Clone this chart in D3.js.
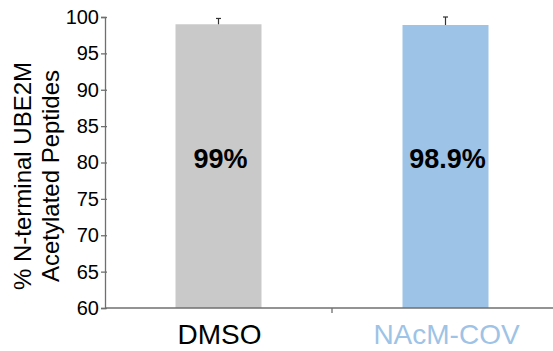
<!DOCTYPE html>
<html>
<head>
<meta charset="utf-8">
<script src="https://cdn.jsdelivr.net/npm/d3@7"></script>
<style>
  html, body { margin: 0; padding: 0; background: #fff; }
  svg { display: block; font-family: "Liberation Sans", Arial, sans-serif; }
</style>
</head>
<body>
<svg id="chart" width="553" height="351"></svg>
<script>
// Percentage of N-terminally acetylated UBE2M peptides per treatment
const categories = ["DMSO", "NAcM-COV"];
const values = [99, 98.9];
const errors = [0.8, 1.1];
const valueLabels = ["99%", "98.9%"];
const barColors = ["#c9c9c9", "#9dc3e6"];
const labelColors = ["#000000", "#9dc3e6"];
const yTicks = [60, 65, 70, 75, 80, 85, 90, 95, 100];

const svg = d3.select("#chart");
const margin = { left: 105, top: 17, bottom: 43 };
const height = 351;
const plotBottom = height - margin.bottom; // 308

const x = d3.scaleBand()
  .domain(categories)
  .range([margin.left, 559])
  .paddingInner(0)
  .paddingOuter(0);

const y = d3.scaleLinear()
  .domain([60, 100])
  .range([plotBottom, margin.top]);

const axisColor = "#6f6f6f";
const barWidth = 86;

// bars
svg.append("g").selectAll("rect")
  .data(categories)
  .join("rect")
  .attr("x", (d) => x(d) + x.bandwidth() / 2 - barWidth / 2)
  .attr("width", barWidth)
  .attr("y", (d, i) => y(values[i]))
  .attr("height", (d, i) => y(60) - y(values[i]))
  .attr("fill", (d, i) => barColors[i]);

// error bars (upper arm only)
const eb = svg.append("g").attr("stroke", "#333").attr("stroke-width", 1.2);
categories.forEach((c, i) => {
  const cx = x(c) + x.bandwidth() / 2;
  eb.append("line")
    .attr("x1", cx).attr("x2", cx)
    .attr("y1", y(values[i])).attr("y2", y(values[i] + errors[i]));
  eb.append("line")
    .attr("x1", cx - 2.5).attr("x2", cx + 2.5)
    .attr("y1", y(values[i] + errors[i])).attr("y2", y(values[i] + errors[i]));
});

// value labels inside bars
svg.append("g").selectAll("text")
  .data(categories)
  .join("text")
  .attr("x", (d) => x(d) + x.bandwidth() / 2 + 2)
  .attr("y", 168)
  .attr("text-anchor", "middle")
  .attr("font-size", 27)
  .attr("font-weight", "bold")
  .attr("fill", "#000")
  .text((d, i) => valueLabels[i]);

// y axis
const yAxis = svg.append("g")
  .attr("transform", `translate(${margin.left},0)`)
  .call(d3.axisLeft(y).tickValues(yTicks).tickSize(4).tickPadding(2).tickFormat(d3.format("d")));
yAxis.select(".domain").attr("stroke", axisColor).attr("stroke-width", 1.3);
yAxis.selectAll(".tick line").attr("stroke", axisColor).attr("stroke-width", 1.3)
  .attr("x1", 2);
yAxis.selectAll(".tick text")
  .attr("font-size", 20)
  .attr("fill", "#000")
  .attr("font-family", "Liberation Sans, Arial, sans-serif");

// x axis
const xAxis = svg.append("g")
  .attr("transform", `translate(0,${plotBottom})`);
xAxis.append("line")
  .attr("x1", margin.left).attr("x2", 553)
  .attr("y1", 0).attr("y2", 0)
  .attr("stroke", axisColor).attr("stroke-width", 1.3);
xAxis.append("line")
  .attr("x1", x(categories[1])).attr("x2", x(categories[1]))
  .attr("y1", 0).attr("y2", 5)
  .attr("stroke", axisColor).attr("stroke-width", 1.3);
xAxis.selectAll("text.cat")
  .data(categories)
  .join("text")
  .attr("class", "cat")
  .attr("x", (d) => x(d) + x.bandwidth() / 2 + 1)
  .attr("y", 36)
  .attr("text-anchor", "middle")
  .attr("font-size", 28)
  .attr("fill", (d, i) => labelColors[i])
  .text((d) => d);

// y axis title, two lines
const title = svg.append("text")
  .attr("transform", "translate(0,176) rotate(-90)")
  .attr("text-anchor", "middle")
  .attr("font-size", 24)
  .attr("fill", "#000");
title.append("tspan").attr("x", 0).attr("y", 31).text("% N-terminal UBE2M");
title.append("tspan").attr("x", 0).attr("y", 59).text("Acetylated Peptides");
</script>
</body>
</html>
